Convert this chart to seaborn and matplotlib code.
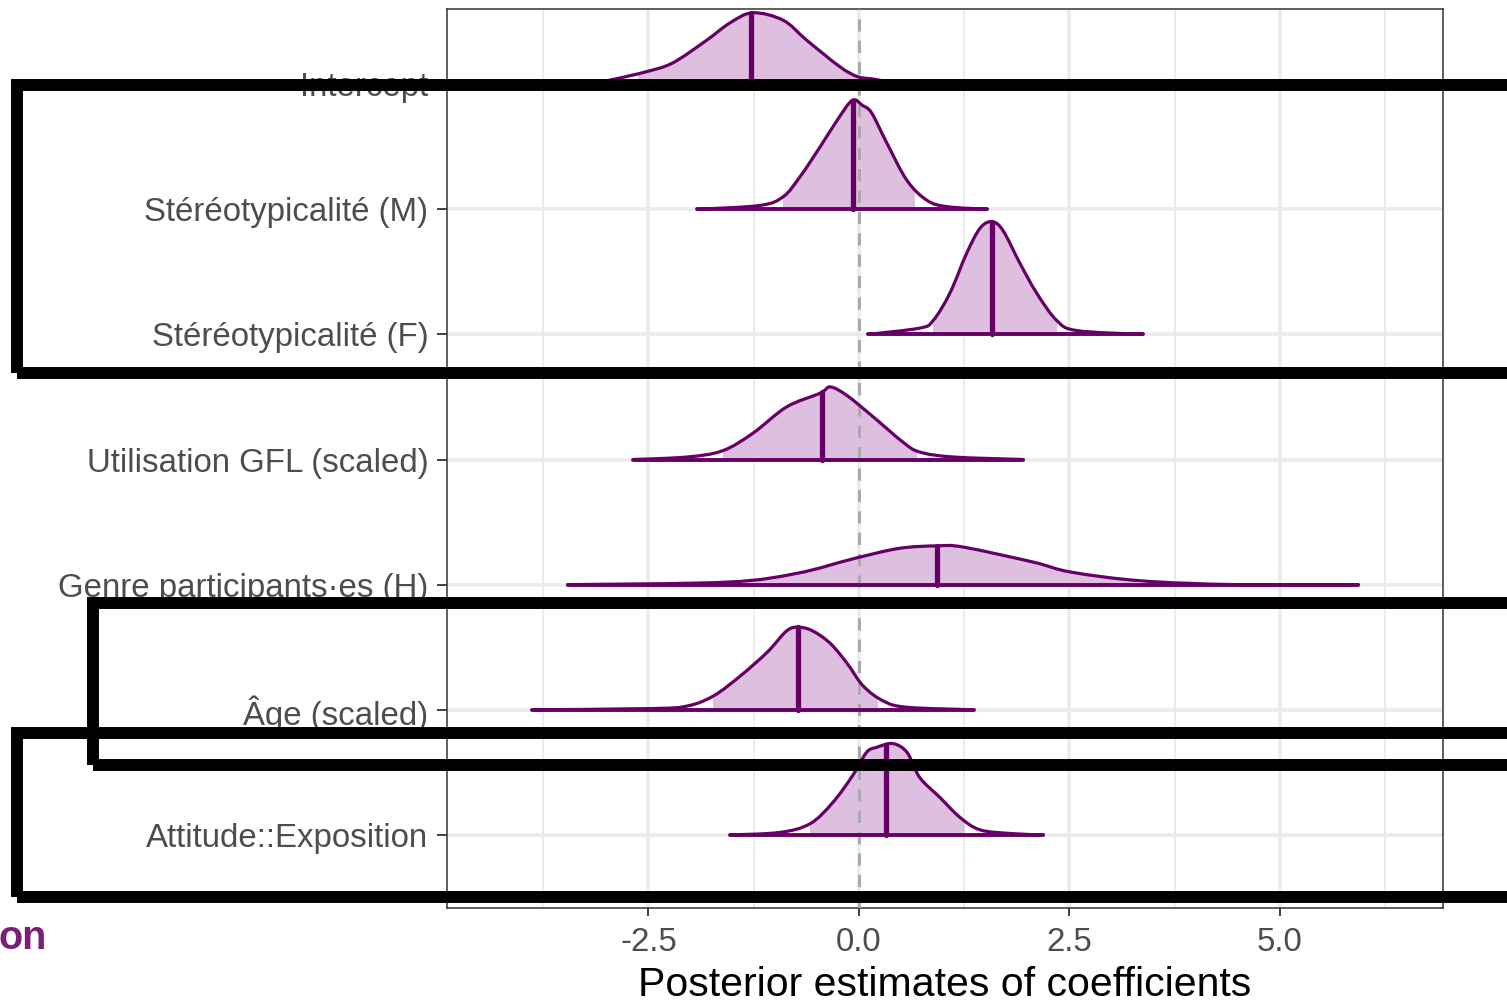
import numpy as np
import pandas as pd
import matplotlib
matplotlib.use("Agg")
import matplotlib.pyplot as plt
from matplotlib.patches import Rectangle, PathPatch
from matplotlib.path import Path
import seaborn as sns

# ---------------- data ----------------
params = ["Intercept", "Stéréotypicalité (M)", "Stéréotypicalité (F)",
          "Utilisation GFL (scaled)", "Genre participants·es (H)",
          "Âge (scaled)", "Attitude::Exposition"]

medians = [-1.28, -0.07, 1.58, -0.44, 0.93, -0.72, 0.32]
inner_lo = [-2.63, -0.90, 0.88, -1.62, -1.45, -1.73, -0.58]
inner_hi = [0.07, 0.67, 2.35, 0.69, 3.30, 0.23, 1.26]

# density curves: x positions and scaled heights (fraction of row spacing)
intercept_x = [-3.20, -2.90, -2.52, -2.21, -1.81, -1.53, -1.26, -0.90, -0.62, -0.23, -0.02, 0.17, 0.45, 0.75]
intercept_h = [0.00, 0.04, 0.10, 0.17, 0.35, 0.49, 0.57, 0.51, 0.35, 0.14, 0.06, 0.04, 0.01, 0.00]

stereo_m_x = [-1.92, -1.18, -0.90, -0.70, -0.46, -0.26, -0.08, 0.04, 0.15, 0.33, 0.57, 0.81, 1.05, 1.52]
stereo_m_h = [0.00, 0.03, 0.10, 0.26, 0.50, 0.71, 0.87, 0.83, 0.77, 0.53, 0.23, 0.07, 0.02, 0.00]

stereo_f_x = [0.11, 0.72, 0.88, 1.08, 1.28, 1.44, 1.58, 1.71, 1.91, 2.11, 2.35, 2.59, 3.37]
stereo_f_h = [0.00, 0.05, 0.11, 0.33, 0.65, 0.85, 0.90, 0.83, 0.57, 0.33, 0.11, 0.03, 0.00]

gfl_x = [-2.68, -2.04, -1.62, -1.26, -0.86, -0.46, -0.34, -0.14, 0.17, 0.52, 0.72, 1.12, 1.95]
gfl_h = [0.00, 0.02, 0.07, 0.21, 0.42, 0.53, 0.58, 0.51, 0.34, 0.14, 0.06, 0.02, 0.00]

genre_x = [-3.46, -1.57, -0.74, -0.05, 0.48, 0.93, 1.24, 2.07, 2.52, 3.36, 4.49, 5.93]
genre_h = [0.00, 0.02, 0.09, 0.21, 0.29, 0.31, 0.30, 0.18, 0.10, 0.03, 0.00, 0.00]

age_x = [-3.88, -2.45, -2.04, -1.73, -1.41, -1.09, -0.86, -0.72, -0.55, -0.34, -0.14, 0.05, 0.29, 0.57, 1.36]
age_h = [0.00, 0.01, 0.03, 0.11, 0.27, 0.46, 0.63, 0.66, 0.63, 0.53, 0.37, 0.19, 0.07, 0.02, 0.00]

attitude_x = [-1.53, -0.94, -0.58, -0.31, -0.07, 0.09, 0.21, 0.40, 0.57, 0.72, 0.96, 1.20, 1.44, 1.83, 2.19]
attitude_h = [0.00, 0.02, 0.09, 0.26, 0.48, 0.66, 0.70, 0.73, 0.66, 0.46, 0.30, 0.14, 0.04, 0.01, 0.00]

curves_x = [intercept_x, stereo_m_x, stereo_f_x, gfl_x, genre_x, age_x, attitude_x]
curves_h = [intercept_h, stereo_m_h, stereo_f_h, gfl_h, genre_h, age_h, attitude_h]

xticks = [-2.5, 0.0, 2.5, 5.0]
xtick_labels = ["-2.5", "0.0", "2.5", "5.0"]
minor_ticks = [-3.75, -1.25, 1.25, 3.75, 6.25]
xlabel = "Posterior estimates of coefficients"

# ---------------- style ----------------
W, H = 1507, 1005
sns.set_theme(style="white")
plt.rcParams["font.family"] = ["Liberation Sans", "DejaVu Sans"]

FILL = "#DFBFDF"
DARK = "#660066"
GRID = "#EBEBEB"


def smooth_path(xs, ys, base, closed=False):
    """Bezier path (Catmull-Rom control points) through the read points."""
    pts = np.column_stack([xs, ys])
    npts = len(pts)
    verts = [tuple(pts[0])]
    codes = [Path.MOVETO]
    for k in range(npts - 1):
        p0 = pts[k - 1] if k > 0 else pts[k]
        p1, p2 = pts[k], pts[k + 1]
        p3 = pts[k + 2] if k + 2 < npts else pts[k + 1]
        c1 = p1 + (p2 - p0) / 6.0
        c2 = p2 - (p3 - p1) / 6.0
        c1[1] = max(c1[1], base)
        c2[1] = max(c2[1], base)
        verts += [tuple(c1), tuple(c2), tuple(p2)]
        codes += [Path.CURVE4] * 3
    if closed:
        verts += [(xs[-1], base), (xs[0], base), (xs[0], base)]
        codes += [Path.LINETO, Path.LINETO, Path.CLOSEPOLY]
    return Path(verts, codes)


fig = plt.figure(figsize=(W / 100, H / 100), dpi=100)
ax = fig.add_axes([447 / W, 1 - 908 / H, (1443 - 447) / W, (908 - 9) / H])

n = len(params)
ypos = [n - 1 - i for i in range(n)]

ax.set_xlim(-4.893, 6.936)
ax.set_ylim(-0.584, n - 1 + 0.60)

# grid
for m in minor_ticks:
    ax.axvline(m, color=GRID, lw=1.4, zorder=0)
for t in xticks:
    ax.axvline(t, color=GRID, lw=2.6, zorder=0)
for y in ypos:
    ax.axhline(y, color=GRID, lw=2.6, zorder=0)

# zero reference line
ax.axvline(0, color="#ABABAB", lw=2.2, ls=(0, (4, 3)), zorder=3)

for i in range(n):
    y0 = ypos[i]
    cx = np.array(curves_x[i])
    ch = np.array(curves_h[i]) + y0
    # inner interval shading (full density area clipped to the interval)
    fill = PathPatch(smooth_path(cx, ch, y0, closed=True), fc=FILL, ec="none", zorder=2)
    ax.add_patch(fill)
    clip = Rectangle((inner_lo[i], y0), inner_hi[i] - inner_lo[i], 1.2,
                     transform=ax.transData)
    fill.set_clip_path(clip)
    # outline
    ax.add_patch(PathPatch(smooth_path(cx, ch, y0), fc="none", ec=DARK, lw=2.3,
                           zorder=4, capstyle="round", joinstyle="round"))
    base_df = pd.DataFrame({"x": [cx[0], cx[-1]], "y": [y0, y0]})
    sns.lineplot(data=base_df, x="x", y="y", ax=ax, color=DARK, lw=2.8,
                 solid_capstyle="round", zorder=4, estimator=None, sort=False)
    # median line
    mh = np.interp(medians[i], cx, ch)
    ax.plot([medians[i], medians[i]], [y0, mh], color=DARK, lw=3.8, zorder=5)

ax.set_yticks(ypos)
ax.set_yticklabels(params)
ax.set_xticks(xticks)
ax.set_xticklabels(xtick_labels)
ax.set_xlabel(xlabel, fontsize=29.5, color="black", labelpad=6)
ax.set_ylabel("")
ax.tick_params(axis="y", labelsize=23.8, labelcolor="#4D4D4D", length=7, width=1.3,
               color="#333333", pad=6.5, left=True)
ax.tick_params(axis="x", labelsize=23.8, labelcolor="#4D4D4D", length=5.5, width=1.3,
               color="#333333", pad=8, bottom=True)
for s in ax.spines.values():
    s.set_visible(True)
    s.set_color("#333333")
    s.set_linewidth(1.1)

# purple cropped text at the bottom left
fig.text(-1 / W, 1 - 938 / H, "on", fontsize=28.5, fontweight="bold", color="#7B1E78",
         ha="left", va="center")

# black annotation rectangles
rects = [(17, 85, 1545, 373), (93, 603, 1545, 765), (17, 733, 1545, 897)]
for (x0, y0, x1, y1) in rects:
    fig.add_artist(Rectangle((x0 / W, 1 - y1 / H), (x1 - x0) / W, (y1 - y0) / H,
                             transform=fig.transFigure, fill=False, ec="black",
                             lw=8.6, clip_on=False, zorder=20, joinstyle="miter"))

fig.savefig("out.png", dpi=100)
